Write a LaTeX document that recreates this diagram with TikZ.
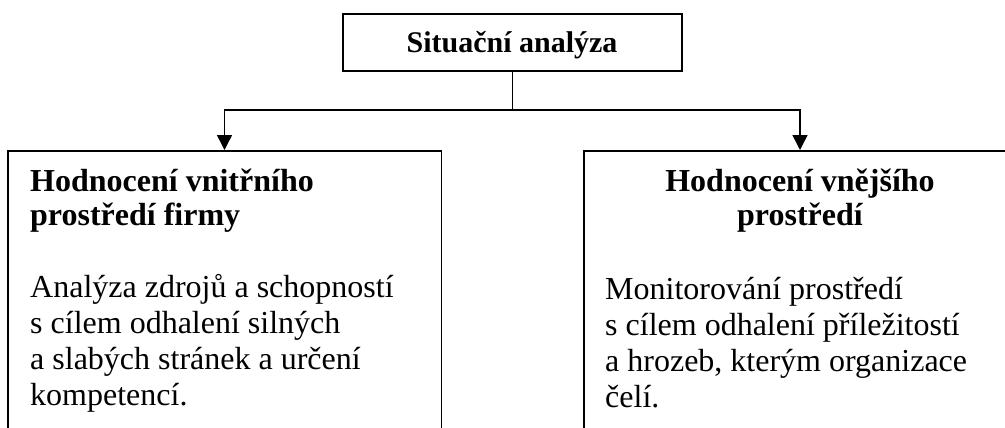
\documentclass[tikz,border=0pt]{standalone}
\usepackage{fontspec}
\setmainfont{Liberation Serif}
\usetikzlibrary{arrows.meta}

\begin{document}
\begin{tikzpicture}[x=1pt,y=-1pt,
  frame/.style={draw,line width=1.5pt,inner sep=0pt},
  openframe/.style={line width=1.5pt},
  link/.style={line width=1.5pt},
  arrowlink/.style={link,-{Triangle[length=15pt,width=15pt]}},
  headtext/.style={inner sep=0pt,font=\fontsize{32}{34}\selectfont\bfseries},
  bodytext/.style={inner sep=0pt,font=\fontsize{32}{36}\selectfont}]
  \useasboundingbox (0,0) rectangle (1005,428);
  \clip (0,0) rectangle (1005,428);

  % top box
  \node[frame,minimum width=339pt,minimum height=57pt] (top) at (512.5,42.5) {};
  \node[inner sep=0pt,anchor=base,font=\fontsize{30}{32}\selectfont\bfseries]
    (toptext) at (512,53) {Situační analýza};

  % the two lower boxes run past the edges of the page
  \node[inner sep=0pt,minimum width=433pt,minimum height=320pt,anchor=north west] (lbox) at (8,151) {};
  \node[inner sep=0pt,minimum width=480pt,minimum height=320pt,anchor=north west] (rbox) at (584,151) {};
  \draw[openframe] (lbox.south west) -- (lbox.north west) -- (lbox.north east) -- (lbox.south east);
  \draw[openframe] (rbox.south west) -- (rbox.north west) -- (rbox.north east);

  % texts of the left box
  \node[headtext,anchor=base west] (lhead) at (30,191)
    {\begin{tabular}[t]{@{}l@{}}Hodnocení vnitřního\\prostředí firmy\end{tabular}};
  \node[bodytext,anchor=base west] (lbody) at (30,297)
    {\begin{tabular}[t]{@{}l@{}}Analýza zdrojů a schopností\\s cílem odhalení silných\\a slabých stránek a určení\\kompetencí.\end{tabular}};

  % texts of the right box
  \node[headtext,anchor=base] (rhead) at (800,191)
    {\begin{tabular}[t]{@{}c@{}}Hodnocení vnějšího\\prostředí\end{tabular}};
  \node[bodytext,anchor=base west] (rbody) at (605,299)
    {\begin{tabular}[t]{@{}l@{}}Monitorování prostředí\\s cílem odhalení příležitostí\\a hrozeb, kterým organizace\\čelí.\end{tabular}};

  % connectors
  \coordinate (split) at (top.south |- 0,110);
  \coordinate (lin) at (224.5,151);
  \coordinate (rin) at (800,151);
  \draw[link] (top.south) -- (split);
  \draw[arrowlink] (split) -| ([yshift=1pt]lin);
  \draw[arrowlink] (split) -| ([yshift=1pt]rin);
\end{tikzpicture}
\end{document}
